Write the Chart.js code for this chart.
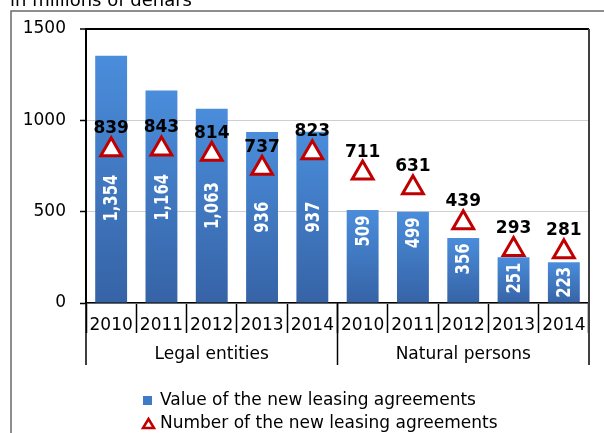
<!DOCTYPE html>
<html>
<head>
<meta charset="utf-8">
<script src="https://cdn.jsdelivr.net/npm/chart.js@4"></script>
<style>
  html, body { margin: 0; padding: 0; background: #fff; }
  #wrap { width: 604px; height: 433px; position: relative; }
</style>
</head>
<body>
<div id="wrap"><canvas id="leasing" width="604" height="433"></canvas></div>
<script>
// new leasing agreements, by year and type of lessee
const years = ['2010', '2011', '2012', '2013', '2014', '2010', '2011', '2012', '2013', '2014'];
const groups = ['Legal entities', 'Natural persons'];
const groupSize = 5;
const leasingValue = [1354, 1164, 1063, 936, 937, 509, 499, 356, 251, 223];
const leasingCount = [839, 843, 814, 737, 823, 711, 631, 439, 293, 281];
const yTicks = [0, 500, 1000, 1500];
const unitTitle = 'in millions of denars';
const legendNames = ['Value of the new leasing agreements', 'Number of the new leasing agreements'];

const FONT = '"DejaVu Sans", Verdana, sans-serif';
const red = '#c00000';

function barGradient(context) {
    const chart = context.chart;
    if (!chart.chartArea) return '#4079c4';
    const yScale = chart.scales.y;
    const top = yScale.getPixelForValue(context.raw);
    const bottom = yScale.getPixelForValue(0);
    const g = chart.ctx.createLinearGradient(0, top, 0, bottom);
    g.addColorStop(0, '#4a8ddb');
    g.addColorStop(1, '#3663a6');
    return g;
}

// frame, title, group labels, legend
const decorations = {
    id: 'decorations',
    beforeDraw(chart) {
        const ctx = chart.ctx;
        ctx.save();
        ctx.fillStyle = '#fff';
        ctx.fillRect(0, 0, chart.width, chart.height);
        ctx.fillStyle = '#000';
        ctx.font = '18px ' + FONT;
        ctx.textBaseline = 'alphabetic';
        ctx.fillText(unitTitle, 10, 6);
        ctx.strokeStyle = '#6a6a6a';
        ctx.lineWidth = 1.5;
        ctx.beginPath();
        ctx.moveTo(11, chart.height);
        ctx.lineTo(11, 11);
        ctx.lineTo(chart.width, 11);
        ctx.stroke();
        ctx.restore();
    },
    afterDraw(chart) {
        const ctx = chart.ctx;
        const area = chart.chartArea;
        const x = chart.scales.x;
        const rowBottom = area.bottom + 62;
        ctx.save();
        // plot border on the right
        ctx.strokeStyle = '#404040';
        ctx.lineWidth = 2;
        ctx.beginPath();
        ctx.moveTo(area.right, area.top);
        ctx.lineTo(area.right, rowBottom);
        ctx.stroke();
        // group boundaries
        const step = x.getPixelForValue(1) - x.getPixelForValue(0);
        ctx.strokeStyle = '#000';
        ctx.lineWidth = 1.5;
        for (let g = 0; g < groups.length; g++) {
            const px = x.getPixelForValue(g * groupSize) - step / 2;
            ctx.beginPath();
            ctx.moveTo(px, area.bottom);
            ctx.lineTo(px, rowBottom);
            ctx.stroke();
        }
        ctx.fillStyle = '#000';
        ctx.font = '17px ' + FONT;
        ctx.textAlign = 'center';
        ctx.textBaseline = 'alphabetic';
        groups.forEach((name, g) => {
            const left = x.getPixelForValue(g * groupSize) - step / 2;
            const right = x.getPixelForValue(g * groupSize + groupSize - 1) + step / 2;
            ctx.fillText(name, (left + right) / 2, area.bottom + 56);
        });

        // legend
        const lx = 143;
        ctx.textAlign = 'left';
        ctx.textBaseline = 'middle';
        ctx.fillStyle = '#3f7bc8';
        ctx.fillRect(lx, 396, 9, 9);
        ctx.fillStyle = '#000';
        ctx.fillText(legendNames[0], lx + 17, 401);
        ctx.beginPath();
        ctx.moveTo(lx + 5.5, 419);
        ctx.lineTo(lx + 11, 428);
        ctx.lineTo(lx, 428);
        ctx.closePath();
        ctx.fillStyle = '#fff';
        ctx.fill();
        ctx.strokeStyle = red;
        ctx.lineWidth = 2.5;
        ctx.stroke();
        ctx.fillStyle = '#000';
        ctx.fillText(legendNames[1], lx + 17, 424);
        ctx.restore();
    }
};

// value labels on bars and triangles
const valueLabels = {
    id: 'valueLabels',
    afterDatasetsDraw(chart) {
        const ctx = chart.ctx;
        const bars = chart.getDatasetMeta(0).data;
        const points = chart.getDatasetMeta(1).data;
        ctx.save();
        bars.forEach((bar, i) => {
            const text = leasingValue[i].toLocaleString('en-US');
            ctx.save();
            ctx.font = 'bold 20px ' + FONT;
            const half = ctx.measureText(text).width * 0.74 / 2;
            const mid = (bar.y + bar.base) / 2;
            let cy;
            if (i < groupSize) {
                // centred, but kept under the triangle marker
                cy = Math.max(mid, points[i].y + 25 + half);
            } else {
                cy = Math.min(mid, bar.y + 21);
            }
            ctx.translate(bar.x, cy);
            ctx.rotate(-Math.PI / 2);
            ctx.scale(0.74, 1);
            ctx.fillStyle = '#fff';
            ctx.textAlign = 'center';
            ctx.textBaseline = 'middle';
            ctx.fillText(text, 0, 1);
            ctx.restore();
        });
        ctx.font = 'bold 17px ' + FONT;
        ctx.fillStyle = '#000';
        ctx.textAlign = 'center';
        ctx.textBaseline = 'middle';
        points.forEach((pt, i) => {
            ctx.fillText(String(leasingCount[i]), pt.x, pt.y - 21);
        });
        ctx.restore();
    }
};

new Chart(document.getElementById('leasing'), {
    type: 'bar',
    data: {
        labels: years,
        datasets: [
            {
                label: legendNames[0],
                data: leasingValue,
                backgroundColor: barGradient,
                borderWidth: 0,
                categoryPercentage: 1,
                barPercentage: 0.634,
                order: 1
            },
            {
                type: 'line',
                label: legendNames[1],
                data: leasingCount,
                showLine: false,
                pointStyle: 'triangle',
                pointRadius: 12,
                pointHoverRadius: 12,
                pointBorderWidth: 3,
                pointBorderColor: red,
                pointBackgroundColor: '#fff',
                order: 0
            }
        ]
    },
    options: {
        responsive: false,
        animation: false,
        events: [],
        layout: { padding: { left: 0, right: 13, top: 29, bottom: 0 } },
        plugins: {
            legend: { display: false },
            title: { display: false },
            tooltip: { enabled: false }
        },
        scales: {
            x: {
                offset: true,
                afterFit: (s) => { s.height = 130; },
                border: { display: true, color: '#000', width: 1.5 },
                grid: {
                    offset: true,
                    drawOnChartArea: false,
                    drawTicks: true,
                    tickLength: 30,
                    tickColor: '#000',
                    tickWidth: 1.5
                },
                ticks: {
                    color: '#000',
                    font: { family: FONT, size: 17 },
                    padding: -18,
                    maxRotation: 0,
                    autoSkip: false
                }
            },
            y: {
                min: 0,
                max: 1500,
                afterFit: (s) => { s.width = 86; },
                afterBuildTicks: (s) => { s.ticks = yTicks.map(v => ({ value: v })); },
                border: { display: true, color: '#000', width: 2 },
                grid: {
                    color: (c) => c.tick && c.tick.value === 1500 ? '#000' : '#cfcfcf',
                    lineWidth: (c) => c.tick && c.tick.value === 1500 ? 2 : 1,
                    tickColor: '#000',
                    tickLength: 6,
                    tickWidth: 1.5
                },
                ticks: {
                    color: '#000',
                    font: { family: FONT, size: 17 },
                    padding: 14,
                    callback: (v) => String(v)
                }
            }
        }
    },
    plugins: [decorations, valueLabels]
});
</script>
</body>
</html>
